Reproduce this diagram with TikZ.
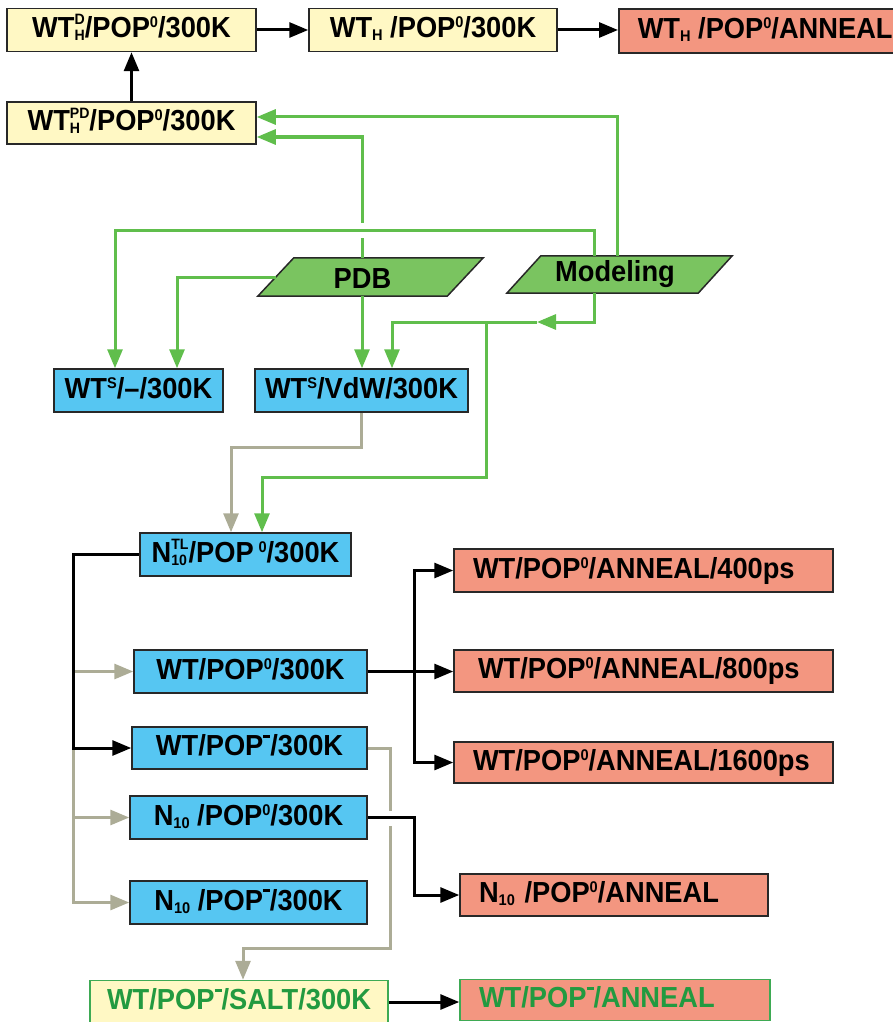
\documentclass[tikz,border=0pt]{standalone}
\usepackage{fontspec}
\newfontfamily\boxfont{Liberation Sans}[FakeStretch=0.94]
\usetikzlibrary{arrows.meta,calc}
\definecolor{cyell}{RGB}{255,248,196}
\definecolor{csalm}{RGB}{243,150,128}
\definecolor{cblue}{RGB}{86,198,242}
\definecolor{cpara}{RGB}{122,196,96}
\definecolor{cgrn}{RGB}{96,190,76}
\definecolor{cgry}{RGB}{172,172,150}
\definecolor{cgtxt}{RGB}{34,154,64}
\definecolor{cgbrd}{RGB}{62,170,84}
\definecolor{cbrd}{RGB}{40,40,40}
\newcommand{\sps}[1]{\raisebox{10pt}{\fontsize{15.5}{15.5}\selectfont #1}}
\newcommand{\sbs}[1]{\raisebox{-3pt}{\fontsize{15.5}{15.5}\selectfont #1}}
\newcommand{\stk}[2]{{\fontsize{15}{15}\selectfont\setbox0=\hbox{#1}\setbox2=\hbox{#2}\ifdim\wd0>\wd2 \rlap{\raisebox{-3.5pt}{#2}}\raisebox{12.5pt}{#1}\else\rlap{\raisebox{12.5pt}{#1}}\raisebox{-3.5pt}{#2}\fi}}
\newcommand{\spm}{\raisebox{18pt}{\rule{7pt}{2.8pt}}}
\tikzset{
  bx/.style={draw=cbrd, line width=1.5pt, minimum height=43pt, inner sep=0pt,
    text height=21pt, text depth=6pt, font={\boxfont\bfseries\fontsize{29}{30}\selectfont}},
  ybx/.style={bx, fill=cyell},
  bbx/.style={bx, fill=cblue},
  rbx/.style={bx, fill=csalm},
  rlx/.style={bx, fill=csalm, align=left, inner xsep=19pt},
  ptxt/.style={inner sep=0pt, font={\boxfont\bfseries\fontsize{29}{30}\selectfont}},
  pshape/.style={fill=cpara, draw=cbrd, line width=1.5pt},
  blk/.style={draw=black, line width=3pt, -{Triangle[length=19pt,width=15pt]}},
  grn/.style={draw=cgrn, line width=3pt, -{Triangle[length=19pt,width=15pt]}},
  gry/.style={draw=cgry, line width=3pt, -{Triangle[length=19pt,width=15pt]}},
}
\begin{document}
\begin{tikzpicture}[x=1pt, y=-1pt]
\useasboundingbox (0,0) rectangle (893,1022);
\clip (0,0) rectangle (893,1022);
% top row
\node[ybx, minimum width=249pt] (A) at (131.5,30) {WT\stk{D}{H}/POP\sps{0}/300K};
\node[ybx, minimum width=248pt] (B) at (433,30) {WT\sbs{H} /POP\sps{0}/300K};
\node[rbx, anchor=west, inner xsep=19pt, minimum height=44pt] (C) at (618,31) {WT\sbs{H} /POP\sps{0}/ANNEAL};
\node[ybx, minimum width=249pt, minimum height=42pt] (D) at (131.5,123) {WT\stk{PD}{H}/POP\sps{0}/300K};
% parallelograms
\node[minimum width=189pt, minimum height=38pt, inner sep=0pt] (pdb) at (370.5,277) {};
\filldraw[pshape] ($(pdb.south west)+(-18,0)$) -- ($(pdb.south east)+(-18,0)$) -- ($(pdb.north east)+(18,0)$) -- ($(pdb.north west)+(18,0)$) -- cycle;
\node[ptxt] (pdbt) at ($(pdb.center)+(-8,2)$) {PDB};
\node[minimum width=191pt, minimum height=37pt, inner sep=0pt] (mod) at (619.5,274.5) {};
\filldraw[pshape] ($(mod.south west)+(-17,0)$) -- ($(mod.south east)+(-17,0)$) -- ($(mod.north east)+(17,0)$) -- ($(mod.north west)+(17,0)$) -- cycle;
\node[ptxt] (modt) at ($(mod.center)+(-4.5,0)$) {Modeling};
% blue boxes
\node[bbx, minimum width=169pt] (wtsm) at (138.5,390.5) {WT\sps{S}/–/300K};
\node[bbx, minimum width=213pt] (vdw) at (361.5,390.5) {WT\sps{S}/VdW/300K};
\node[bbx, minimum width=211pt] (n10tl) at (245.5,554.5) {N\stk{TL}{10}/POP\,\sps{0}/300K};
\node[bbx, minimum width=233pt] (wt0) at (250.5,671.5) {WT/POP\sps{0}/300K};
\node[bbx, minimum width=235pt, minimum height=42pt] (wtm) at (249.5,748) {WT/POP\spm/300K};
\node[bbx, minimum width=237pt] (n10z) at (248.5,817.5) {N\sbs{10} /POP\sps{0}/300K};
\node[bbx, minimum width=237pt] (n10m) at (248.5,902.5) {N\sbs{10} /POP\spm/300K};
% red boxes
\node[rlx, text width=341pt] (r400) at (643.5,570.5) {WT/POP\sps{0}/ANNEAL/400ps};
\node[rlx, text width=341pt, minimum height=42pt] (r800) at (643.5,671) {\hspace*{5pt}WT/POP\sps{0}/ANNEAL/800ps};
\node[rlx, text width=341pt, minimum height=41pt] (r1600) at (643.5,762.5) {WT/POP\sps{0}/ANNEAL/1600ps};
\node[rlx, text width=270pt, minimum height=42pt] (n10a) at (614,895) {N\sbs{10} /POP\sps{0}/ANNEAL};
% bottom row
\node[bx, fill=cyell, draw=cgbrd, text=cgtxt, minimum width=298pt] (salt) at (239,1002) {WT/POP\spm/SALT/300K};
\node[rlx, draw=cgbrd, text=cgtxt, text width=272pt, minimum height=41pt] (wtma) at (615,1000) {WT/POP\spm/ANNEAL};
% helper coordinates
\coordinate (mup) at ($(mod.north)+(-2.5,0)$);
\coordinate (mxt) at ($(mod.north)+(-25.5,0)$);
\coordinate (mxb) at ($(mod.south)+(-25.5,0)$);
\coordinate (pu) at ($(pdb.north)+(-8.5,0)$);
\coordinate (pdown) at ($(pdb.south)+(-8.5,0)$);
\coordinate (mj) at (537,322);
\coordinate (jn) at (486,322);
\coordinate (tk) at (73,0);
\coordinate (tk2) at (390,0);
\coordinate (sy) at (0,948);
\coordinate (fx) at (414,0);
% black top
\draw[blk] (A.east) -- (B.west);
\draw[blk] (B.east) -- (B.east -| C.west);
\draw[blk] (D.north) -- (A.south);
% green
\draw[grn] (mup) |- ($(D.east)+(0,-6)$);
\draw[grn] (pu) |- ($(D.east)+(0,14)$);
\fill[white] ($(pu)+(-4,-35)$) rectangle ($(pu)+(4,-20)$);
\draw[grn] (mxt) -- ++(0,-25) -| ($(wtsm.north)+(-23.5,0)$);
\draw[grn] (pdb.west) -| ($(wtsm.north)+(38.5,0)$);
\draw[grn] (pdown) -- (pdown |- vdw.north);
\draw[grn] (mxb) |- (mj);
\draw[grn] (mj) -| ($(vdw.north)+(30.5,0)$);
\draw[grn] (jn) -- ++(0,155) -| ($(n10tl.north)+(16.5,0)$);
% gray
\draw[gry] (vdw.south) -- ++(0,35) -| ($(n10tl.north)+(-14.5,0)$);
\draw[gry] (n10tl.west) -| (tk |- wt0.west) -- (wt0.west);
\draw[gry] (n10tl.west) -| (tk |- n10z.west) -- (n10z.west);
\draw[gry] (n10tl.west) -| (tk |- n10m.west) -- (n10m.west);
\draw[gry] (wtm.east) -| (tk2 |- sy) -| ($(salt.north)+(4,0)$);
\coordinate (gx) at (n10z.east -| tk2);
\fill[white] ($(gx)+(-4,-7)$) rectangle ($(gx)+(4,8)$);
% black lower
\draw[blk] (n10tl.west) -| (tk |- wtm.west) -- (wtm.west);
\draw[blk] (wt0.east) -| (fx |- r400.west) -- (r400.west);
\draw[blk] (wt0.east) -- (wt0.east -| r800.west);
\draw[blk] (wt0.east) -| (fx |- r1600.west) -- (r1600.west);
\draw[blk] (n10z.east) -| (fx |- n10a.west) -- (n10a.west);
\draw[blk] (salt.east) -- (salt.east -| wtma.west);
\end{tikzpicture}
\end{document}
